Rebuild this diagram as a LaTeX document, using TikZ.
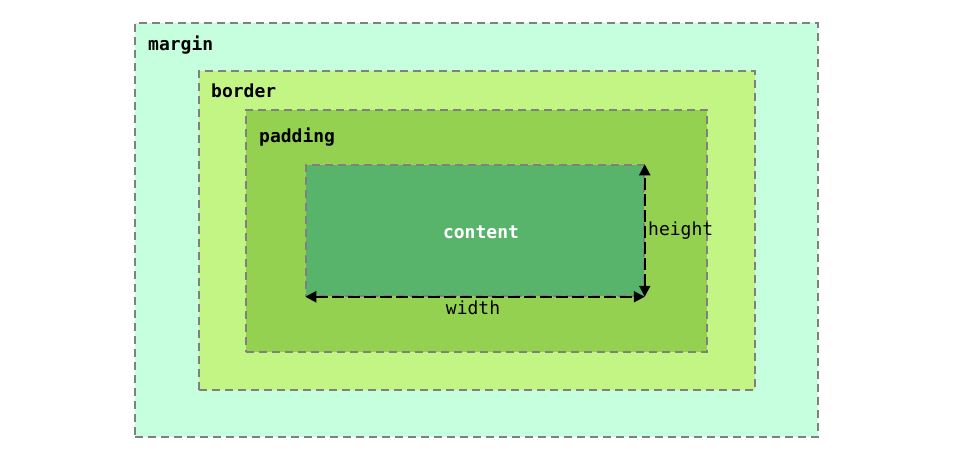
\documentclass[tikz,border=0pt]{standalone}
\usepackage{fontspec}
\usepackage{tikz}
\usetikzlibrary{arrows.meta,positioning}
\newfontfamily\boxfont{DejaVu Sans Mono}
\definecolor{marginc}{HTML}{C5FFDD}
\definecolor{borderc}{HTML}{C2F584}
\definecolor{paddingc}{HTML}{95D151}
\definecolor{contentc}{HTML}{57B46A}
\definecolor{edgec}{HTML}{808080}

\begin{document}
\begin{tikzpicture}[
    x=1pt, y=-1pt,
    layer/.style={draw=edgec, line width=1.5pt, dash pattern=on 8pt off 5pt, inner sep=0pt},
    tag/.style={inner sep=0pt, anchor=west, font=\boxfont\fontsize{18}{21}\selectfont\bfseries},
    dim/.style={inner sep=0pt, font=\boxfont\fontsize{18}{21}\selectfont},
    dimarr/.style={{Triangle[length=11pt,width=11pt]}-{Triangle[length=11pt,width=11pt]}, line width=2pt, dash pattern=on 12pt off 4pt, black},
]
\useasboundingbox (0,0) rectangle (955,467);

% Nested boxes
\node (margin) [layer, fill=marginc, minimum width=683pt, minimum height=414pt] at (476.5,230) {};
\node (border) [layer, fill=borderc, minimum width=556pt, minimum height=319pt] at (477,230.5) {};
\node (padding) [layer, fill=paddingc, minimum width=461pt, minimum height=242pt] at (476.5,231) {};
\node (content) [layer, fill=contentc, minimum width=338pt, minimum height=131pt] at (475,230.5) {};

% Labels
\node (margintag) [tag] at (148,45) {margin};
\node (bordertag) [tag] at (211,91) {border};
\node (paddingtag) [tag] at (259,137) {padding};
\node (contenttag) [tag, anchor=center, text=white] at (481,232) {content};

% Dimension arrows
\draw[dimarr] (content.south west) -- (content.south east);
\draw[dimarr] (content.south east) -- (content.north east);
\node (widthtag) [dim] at (473,308) {width};
\node (heighttag) [dim, anchor=west] at (648,231) {height};
\end{tikzpicture}
\end{document}
